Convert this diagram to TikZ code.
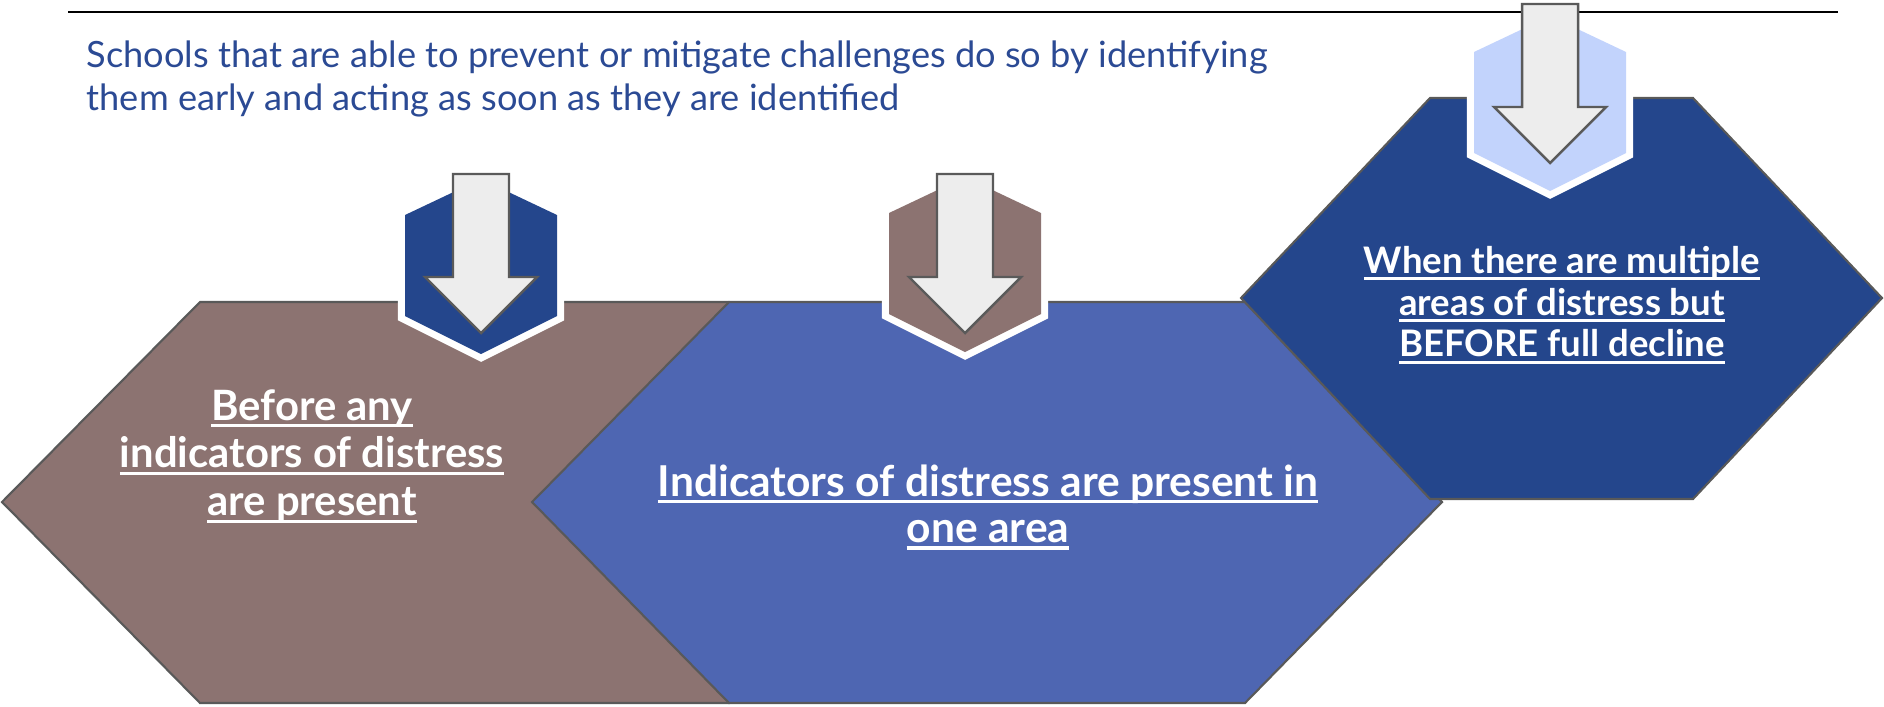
\documentclass[tikz,border=0pt]{standalone}
\usepackage{fontspec}
\setmainfont{Lato}
\usetikzlibrary{positioning}
\definecolor{Taupe}{HTML}{8C7371}
\definecolor{Cornflower}{HTML}{4E66B2}
\definecolor{Navy}{HTML}{24468C}
\definecolor{Sky}{HTML}{C2D3FC}
\definecolor{ArrowFill}{HTML}{EDEDED}
\definecolor{ArrowEdge}{HTML}{5A5A5A}
\definecolor{Edge}{HTML}{595959}
\definecolor{TitleBlue}{HTML}{2B4A94}
% underlined line of a label
\newcommand{\ulinetext}[1]{\setbox0\hbox{#1}\rlap{\rule[-2pt]{\wd0}{0.9pt}}\box0}
% big stage hexagon: left x, top y, width, inset, colour
\newcommand{\stagehex}[5]{
  \draw[fill=#5, draw=Edge, line width=0.6pt] (#1,#2+200) -- (#1+#4,#2) -- (#1+#3-#4,#2)
    -- (#1+#3,#2+200) -- (#1+#3-#4,#2+401) -- (#1+#4,#2+401) -- cycle;
}
% small hexagon with a down arrow: centre x, hexagon top y, arrow top y, colour
\newcommand{\badge}[4]{
  \begin{scope}[shift={(#1,#2)}]
    \draw[white, line width=4pt] (-76,0) -- (0,-36) -- (76,0) -- (76,101) -- (0,139) -- (-76,101) -- cycle;
    \fill[#4] (-76,0) -- (0,-36) -- (76,0) -- (76,101) -- (0,139) -- (-76,101) -- cycle;
  \end{scope}
  \begin{scope}[shift={(#1,#3)}]
    \draw[fill=ArrowFill, draw=ArrowEdge, line width=0.7pt] (-28,0) -- (28,0) -- (28,103) -- (56,103)
      -- (0,159) -- (-56,103) -- (-28,103) -- cycle;
  \end{scope}
}

\begin{document}
\begin{tikzpicture}[x=0.1mm, y=-0.1mm,
    title/.style={anchor=north west, inner sep=0pt, align=left, text=TitleBlue,
      font=\fontsize{10.3}{12.4}\selectfont},
    stagetext/.style={inner sep=0pt, align=center, text=white, font=\bfseries}]
  \useasboundingbox (0,0) rectangle (1884,706);
  \draw[black, line width=0.6pt] (68,12) -- (1838,12);
  \node[title] (intro) at (86,40) {Schools that are able to prevent or mitigate challenges do so by identifying\\
    them early and acting as soon as they are identified};

  \stagehex{2}{302}{925}{198}{Taupe}
  \stagehex{532}{302}{910}{197}{Cornflower}
  \stagehex{1241}{98}{641}{189}{Navy}

  \badge{481}{215}{174}{Navy}
  \badge{965}{213}{174}{Taupe}
  \badge{1550}{52}{4}{Sky}

  \node[stagetext, font=\bfseries\fontsize{11.9}{13.6}\selectfont] (before) at (312,456)
    {\ulinetext{Before any}\\ \ulinetext{indicators of distress}\\ \ulinetext{are present}};
  \node[stagetext, font=\bfseries\fontsize{12.1}{13.2}\selectfont] (onearea) at (988,507)
    {\ulinetext{Indicators of distress are present in}\\ \ulinetext{one area}};
  \node[stagetext, font=\bfseries\fontsize{10.4}{11.9}\selectfont] (multiple) at (1562,305)
    {\ulinetext{When there are multiple}\\ \ulinetext{areas of distress but}\\ \ulinetext{BEFORE full decline}};
\end{tikzpicture}
\end{document}
